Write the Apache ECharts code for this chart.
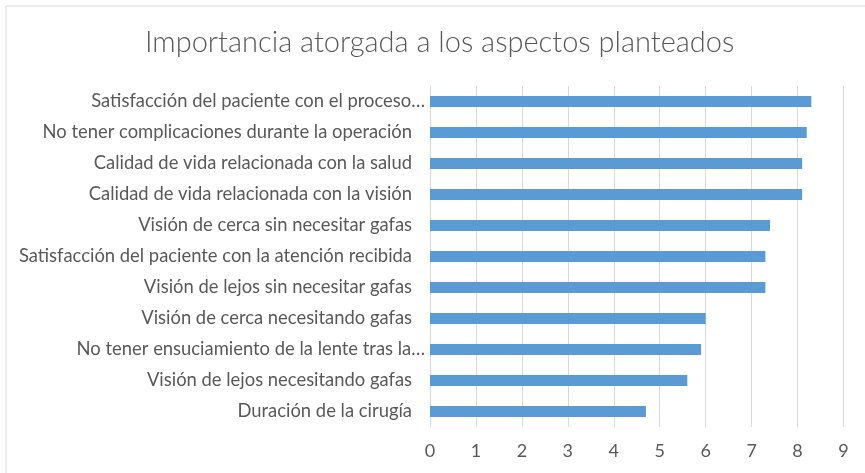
<!DOCTYPE html>
<html><head><meta charset="utf-8">
<script src="https://cdn.jsdelivr.net/npm/echarts@6/dist/echarts.min.js"></script>
<style>html,body{margin:0;padding:0;background:#fff}#c{width:865px;height:473px}</style>
</head><body><div id="c"></div>
<script>
const titleText = 'Importancia atorgada a los aspectos planteados';
const categories = [
  'Satisfacción del paciente con el proceso…',
  'No tener complicaciones durante la operación',
  'Calidad de vida relacionada con la salud',
  'Calidad de vida relacionada con la visión',
  'Visión de cerca sin necesitar gafas',
  'Satisfacción del paciente con la atención recibida',
  'Visión de lejos sin necesitar gafas',
  'Visión de cerca necesitando gafas',
  'No tener ensuciamiento de la lente tras la…',
  'Visión de lejos necesitando gafas',
  'Duración de la cirugía'
];
const values = [8.3, 8.2, 8.1, 8.1, 7.4, 7.3, 7.3, 6.0, 5.9, 5.6, 4.7];
const xTicks = [0, 1, 2, 3, 4, 5, 6, 7, 8, 9];

const FONT = 'Lato';
const LSIZE = 18.4;
const chart = echarts.init(document.getElementById('c'));
chart.setOption({
  animation: false,
  backgroundColor: '#fff',
  graphic: [{
    type: 'rect', left: 3.5, top: 3.5, silent: true,
    shape: { x: 0, y: 0, width: 900, height: 520 },
    style: { fill: 'none', stroke: '#d9d9d9', lineWidth: 1 }
  }],
  title: {
    text: titleText, left: 140, top: 23,
    textStyle: { fontFamily: FONT, fontSize: 29, fontWeight: 300, color: '#595959' }
  },
  grid: { left: 430, right: 21.5, top: 86, bottom: 46, containLabel: false },
  xAxis: {
    type: 'value', min: xTicks[0], max: xTicks[xTicks.length - 1], interval: 1,
    axisLine: { show: false }, axisTick: { show: false },
    splitLine: { show: true, lineStyle: { color: '#d9d9d9', width: 1 } },
    axisLabel: { margin: 15, fontFamily: FONT, fontSize: 18, color: '#595959' }
  },
  yAxis: {
    type: 'category', data: categories, inverse: true,
    axisLine: { show: true, lineStyle: { color: '#d9d9d9' } },
    axisTick: { show: false },
    axisLabel: {
      margin: 5, fontFamily: FONT, fontSize: LSIZE, color: '#595959',
      formatter: v => v.endsWith('…') ? '{t|' + v + '}' : '{n|' + v + '}',
      rich: {
        t: { fontFamily: FONT, fontSize: LSIZE, color: '#595959' },
        n: { fontFamily: FONT, fontSize: LSIZE, color: '#595959', padding: [0, 13, 0, 0] }
      }
    }
  },
  series: [{
    type: 'bar', data: values, barWidth: 11,
    itemStyle: { color: '#5b9bd5' }
  }]
});
</script></body></html>
